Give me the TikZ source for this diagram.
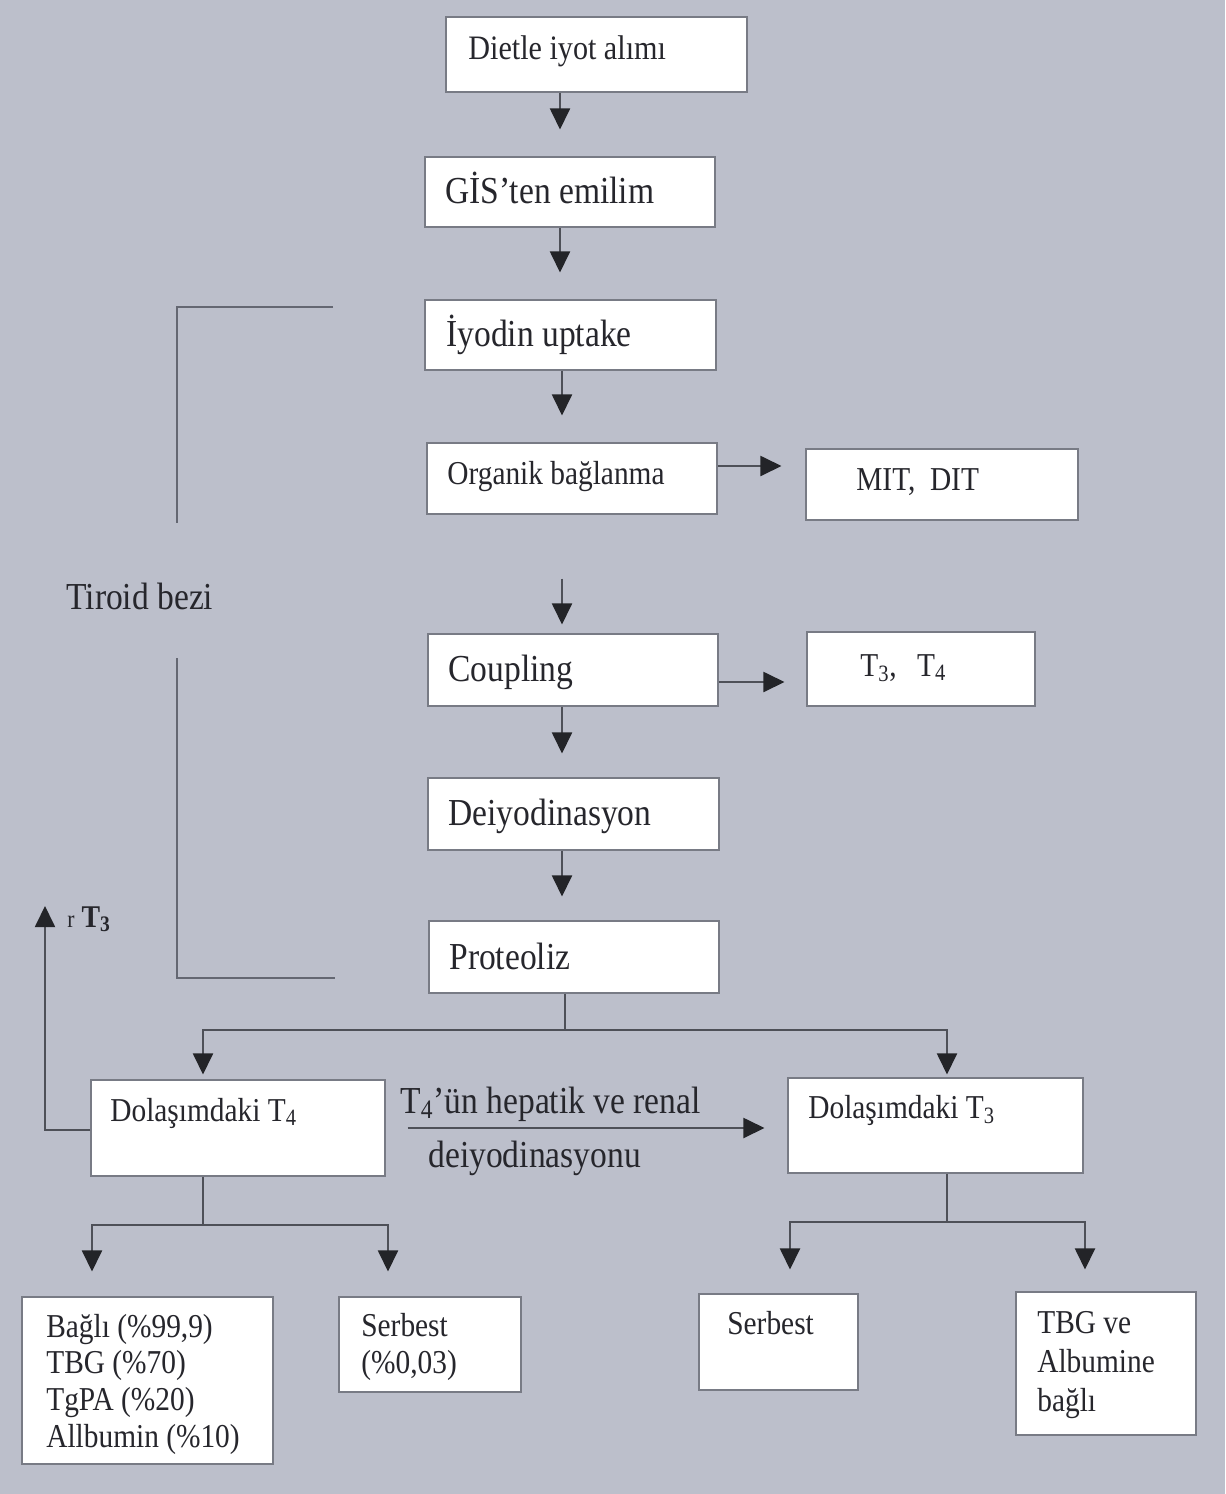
\documentclass[tikz,border=0pt]{standalone}
\usepackage{fontspec}
\setmainfont{Liberation Serif}[FakeStretch=0.88]
\usetikzlibrary{arrows.meta,fit}
\definecolor{bgc}{RGB}{188,191,203}
\definecolor{linec}{RGB}{78,80,88}
\definecolor{brk}{RGB}{100,103,114}
\definecolor{boxline}{RGB}{120,123,133}
\definecolor{txt}{RGB}{38,38,44}
\definecolor{tipc}{RGB}{35,36,40}
\newcommand\bigf{\fontsize{21.7}{24}\selectfont}
\newcommand\smallf{\fontsize{19}{21}\selectfont}
\newcommand\mlines[2]{{\fontsize{19}{#1}\selectfont\begin{tabular}[t]{@{}l@{}}#2\end{tabular}}}
\tikzset{
  box/.style={draw=boxline, line width=0.6pt, fill=white, inner sep=0pt},
  lbl/.style={anchor=base west, inner sep=0pt, text=txt},
  conn/.style={draw=linec, line width=0.8pt},
  arr/.style={conn, -{Triangle[length=12pt,width=11.5pt,color=tipc]}},
  bracketline/.style={draw=brk, line width=0.9pt}
}
\begin{document}
\begin{tikzpicture}[x=0.02cm,y=-0.02cm]
\fill[bgc] (0,0) rectangle (1225,1494);
\useasboundingbox (0,0) rectangle (1225,1494);

% helper coordinates
\coordinate (c560) at (560,0);
\coordinate (c562) at (562,0);
\coordinate (c203) at (203,0);
\coordinate (c947) at (947,0);
\coordinate (c92) at (92,0);
\coordinate (c388) at (388,0);
\coordinate (c790) at (790,0);
\coordinate (c1085) at (1085,0);
\coordinate (y466) at (0,466);
\coordinate (y682) at (0,682);
\coordinate (y1128) at (0,1128);
\coordinate (y1130) at (0,1130);

% boxes
\node[box, fit={(446,17)(747,92)}] (diet) {};
\node[box, fit={(425,157)(715,227)}] (gis) {};
\node[box, fit={(425,300)(716,370)}] (iyod) {};
\node[box, fit={(427,443)(717,514)}] (org) {};
\node[box, fit={(806,449)(1078,520)}] (mit) {};
\node[box, fit={(428,634)(718,706)}] (coup) {};
\node[box, fit={(807,632)(1035,706)}] (t34) {};
\node[box, fit={(428,778)(719,850)}] (deiy) {};
\node[box, fit={(429,921)(719,993)}] (prot) {};
\node[box, fit={(91,1080)(385,1176)}] (dol4) {};
\node[box, fit={(788,1078)(1083,1173)}] (dol3) {};
\node[box, fit={(22,1297)(273,1464)}] (bagli) {};
\node[box, fit={(339,1297)(521,1392)}] (serb4) {};
\node[box, fit={(699,1294)(858,1390)}] (serb3) {};
\node[box, fit={(1016,1292)(1196,1435)}] (tbg) {};

% texts
\node[lbl, font=\fontsize{19.5}{22}\selectfont] (diet-t) at (468,59) {Dietle iyot alımı};
\node[lbl, font=\bigf] (gis-t) at (445,203) {GİS’ten emilim};
\node[lbl, font=\bigf] (iyod-t) at (446,346) {İyodin uptake};
\node[lbl, font=\smallf] (org-t) at (447,484) {Organik bağlanma};
\node[lbl, font=\smallf] (mit-t) at (856,490) {MIT,\ \ DIT};
\node[lbl, font=\bigf] (coup-t) at (448,681) {Coupling};
\node[lbl, font=\smallf] (t34-t) at (860,676) {T\textsubscript{3},\ \ \,T\textsubscript{4}};
\node[lbl, font=\bigf] (deiy-t) at (448,825) {Deiyodinasyon};
\node[lbl, font=\bigf] (prot-t) at (449,969) {Proteoliz};
\node[lbl, font=\smallf] (dol4-t) at (110,1121) {Dolaşımdaki T\textsubscript{4}};
\node[lbl, font=\smallf] (dol3-t) at (808,1118) {Dolaşımdaki T\textsubscript{3}};
\node[lbl, font=\bigf] (hep-t) at (400,1113) {T\textsubscript{4}’ün hepatik ve renal};
\node[lbl, font=\bigf] (deiyr-t) at (428,1167) {deiyodinasyonu};
\node[lbl, font=\bigf] (tir-t) at (66,609) {Tiroid bezi};
\node[lbl] (rt-t) at (67,927) {{\fontsize{14}{16}\selectfont r}\hspace{4pt}{\fontsize{18}{20}\selectfont\bfseries T\textsubscript{3}}};
\node[lbl] (bagli-t) at (46,1337) {\mlines{20.9pt}{Bağlı (\%99,9)\\TBG (\%70)\\TgPA (\%20)\\Allbumin (\%10)}};
\node[lbl] (serb4-t) at (361,1336) {\mlines{21.6pt}{Serbest\\(\%0,03)}};
\node[lbl, font=\smallf] (serb3-t) at (727,1334) {Serbest};
\node[lbl] (tbg-t) at (1037,1333) {\mlines{22.2pt}{TBG ve\\Albumine\\bağlı}};

% thyroid bracket
\draw[bracketline] (333,307) -- (177,307) -- (177,523);
\draw[bracketline] (177,658) -- (177,978) -- (335,978);

% main chain
\draw[arr, shorten >=0.54cm] (diet.south -| c560) -- (gis.north -| c560);
\draw[arr, shorten >=0.54cm] (gis.south -| c560) -- (iyod.north -| c560);
\draw[arr, shorten >=0.54cm] (iyod.south -| c562) -- (org.north -| c562);
\draw[arr, shorten >=0.48cm] (org.east |- y466) -- (mit.west |- y466);
\draw[arr, shorten <=1.28cm, shorten >=0.18cm] (org.south -| c562) -- (coup.north -| c562);
\draw[arr, shorten >=0.44cm] (coup.east |- y682) -- (t34.west |- y682);
\draw[arr, shorten >=0.48cm] (coup.south -| c562) -- (deiy.north -| c562);
\draw[arr, shorten >=0.48cm] (deiy.south -| c562) -- (prot.north -| c562);

% proteoliz split
\coordinate (pj) at (565,1030);
\draw[conn] (prot.south -| pj) -- (pj);
\draw[arr, shorten >=0.1cm] (pj) -| (dol4.north -| c203);
\draw[arr, shorten >=0.06cm] (pj) -| (dol3.north -| c947);

% rT3 feedback
\coordinate (rt) at (45,906);
\draw[arr] (dol4.west |- y1130) -| (rt);

% T4 -> T3
\draw[arr, shorten <=0.44cm, shorten >=0.46cm] (dol4.east |- y1128) -- (dol3.west |- y1128);

% T4 split
\coordinate (j4) at (203,1225);
\draw[conn] (dol4.south -| j4) -- (j4);
\draw[arr, shorten >=0.5cm] (j4) -| (bagli.north -| c92);
\draw[arr, shorten >=0.5cm] (j4) -| (serb4.north -| c388);

% T3 split
\coordinate (j3) at (947,1222);
\draw[conn] (dol3.south -| j3) -- (j3);
\draw[arr, shorten >=0.48cm] (j3) -| (serb3.north -| c790);
\draw[arr, shorten >=0.44cm] (j3) -| (tbg.north -| c1085);
\end{tikzpicture}
\end{document}
